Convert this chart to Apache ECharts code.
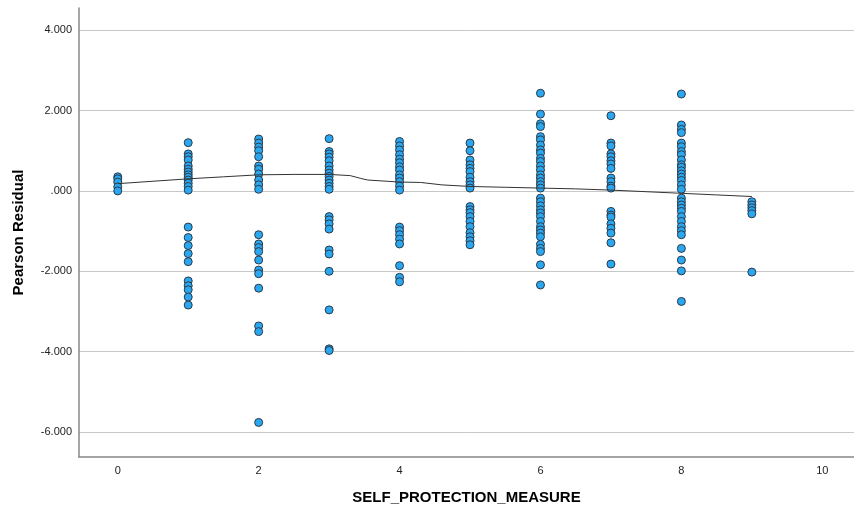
<!DOCTYPE html>
<html>
<head>
<meta charset="utf-8">
<script src="https://cdn.jsdelivr.net/npm/echarts@6/dist/echarts.min.js"></script>
<style>
html,body{margin:0;padding:0;background:#fff;}
#chart{width:854px;height:512px;}
</style>
</head>
<body>
<div id="chart"></div>
<script>
// x categories (SELF_PROTECTION_MEASURE) and Pearson residuals per category
var xValues = [0, 1, 2, 3, 4, 5, 6, 7, 8, 9];
var res0 = [0.35, 0.30, 0.22, 0.10, 0.0];
var res1 = [1.20, 0.92, 0.85, 0.77, 0.62, 0.54, 0.47, 0.40, 0.34, 0.27, 0.19, 0.11, 0.02,
            -0.90, -1.16, -1.36, -1.56, -1.76, -2.24, -2.36, -2.46, -2.64, -2.84];
var res2 = [1.29, 1.19, 1.09, 1.00, 0.85, 0.62, 0.54, 0.42, 0.27, 0.15, 0.04,
            -1.09, -1.32, -1.41, -1.51, -1.72, -1.97, -2.06, -2.42, -3.36, -3.50, -5.76];
var res3 = [1.30, 0.98, 0.92, 0.84, 0.75, 0.62, 0.52, 0.44, 0.36, 0.27, 0.19, 0.11, 0.04,
            -0.64, -0.72, -0.82, -0.95, -1.47, -1.57, -2.00, -2.96, -3.93, -3.97];
var res4 = [1.23, 1.12, 1.02, 0.90, 0.79, 0.70, 0.60, 0.52, 0.40, 0.32, 0.23, 0.12, 0.02,
            -0.90, -0.99, -1.09, -1.20, -1.32, -1.86, -2.15, -2.26];
var res5 = [1.19, 1.00, 0.77, 0.65, 0.56, 0.48, 0.34, 0.23, 0.15, 0.07,
            -0.39, -0.47, -0.54, -0.64, -0.76, -0.89, -1.04, -1.14, -1.24, -1.34];
var res6 = [2.43, 1.91, 1.67, 1.60, 1.35, 1.27, 1.14, 1.02, 0.94, 0.81, 0.73, 0.62, 0.52, 0.40, 0.32, 0.23, 0.15, 0.07,
            -0.18, -0.27, -0.37, -0.47, -0.55, -0.64, -0.76, -0.89, -0.97, -1.05, -1.14, -1.33, -1.43, -1.51, -1.84, -2.34];
var res7 = [1.87, 1.19, 1.12, 0.92, 0.85, 0.75, 0.67, 0.56, 0.32, 0.23, 0.12, 0.07,
            -0.51, -0.60, -0.65, -0.82, -0.93, -1.05, -1.29, -1.82];
var res8 = [2.41, 1.64, 1.53, 1.45, 1.19, 1.10, 0.98, 0.90, 0.77, 0.65, 0.59, 0.50, 0.42, 0.34, 0.26, 0.15, 0.04,
            -0.18, -0.27, -0.35, -0.43, -0.51, -0.64, -0.76, -0.89, -0.99, -1.09, -1.43, -1.72, -1.99, -2.75];
var res9 = [-0.27, -0.35, -0.42, -0.49, -0.57, -2.02];

// fit line (loess)
var fitX = [0, 0.5, 1, 1.5, 2, 2.5, 3, 3.3, 3.45, 3.55, 4, 4.3, 4.6, 5, 5.5, 6, 6.5, 7, 7.5, 8, 8.5, 9];
var fitY = [0.18, 0.24, 0.30, 0.35, 0.40, 0.41, 0.41, 0.38, 0.31, 0.27, 0.22, 0.21, 0.15, 0.11, 0.09, 0.07, 0.05, 0.02, -0.02, -0.06, -0.10, -0.14];

var xTicks = [0, 2, 4, 6, 8, 10];
var yTicks = [-6, -4, -2, 0, 2, 4];

var allRes = [res0, res1, res2, res3, res4, res5, res6, res7, res8, res9];
var scatterData = [];
allRes.forEach(function (arr, i) {
  arr.forEach(function (v) { scatterData.push([xValues[i], v]); });
});
var fitData = fitX.map(function (x, i) { return [x, fitY[i]]; });

var chart = echarts.init(document.getElementById('chart'), null, {renderer: 'canvas'});
var font = 'Liberation Sans, Arial, sans-serif';
chart.setOption({
  animation: false,
  backgroundColor: '#ffffff',
  grid: {left: 79, top: 8, right: 0, bottom: 55, containLabel: false, outerBoundsMode: 'none'},
  xAxis: {
    type: 'value',
    min: -0.55, max: 10.45,
    name: 'SELF_PROTECTION_MEASURE',
    nameLocation: 'middle',
    nameGap: 33,
    nameTextStyle: {fontFamily: font, fontSize: 15, fontWeight: 'bold', color: '#000'},
    axisLine: {show: true, onZero: false, lineStyle: {color: '#888', width: 1.5}},
    axisTick: {show: false, customValues: xTicks},
    axisLabel: {customValues: xTicks, fontFamily: font, fontSize: 11, color: '#222', margin: 8},
    splitLine: {show: false}
  },
  yAxis: {
    type: 'value',
    min: -6.62, max: 4.55,
    name: 'Pearson Residual',
    nameLocation: 'middle',
    nameGap: 53,
    nameTextStyle: {fontFamily: font, fontSize: 15, fontWeight: 'bold', color: '#000'},
    axisLine: {show: true, onZero: false, lineStyle: {color: '#888', width: 1.5}},
    axisTick: {show: false, customValues: yTicks},
    axisLabel: {
      customValues: yTicks, fontFamily: font, fontSize: 11, color: '#222', margin: 7,
      formatter: function (v) {
        if (Math.abs(v) < 1e-9) return '.000';
        return v.toFixed(3);
      }
    },
    splitLine: {show: true, lineStyle: {color: '#c8c8c8', width: 1}}
  },
  series: [
    {
      type: 'scatter',
      data: scatterData,
      symbol: 'circle',
      symbolSize: 8,
      itemStyle: {color: '#2ba7ef', borderColor: '#2a3a4a', borderWidth: 1, opacity: 1},
      z: 3
    },
    {
      type: 'line',
      data: fitData,
      showSymbol: false,
      smooth: false,
      lineStyle: {color: '#333', width: 1},
      z: 4
    }
  ]
});
</script>
</body>
</html>
